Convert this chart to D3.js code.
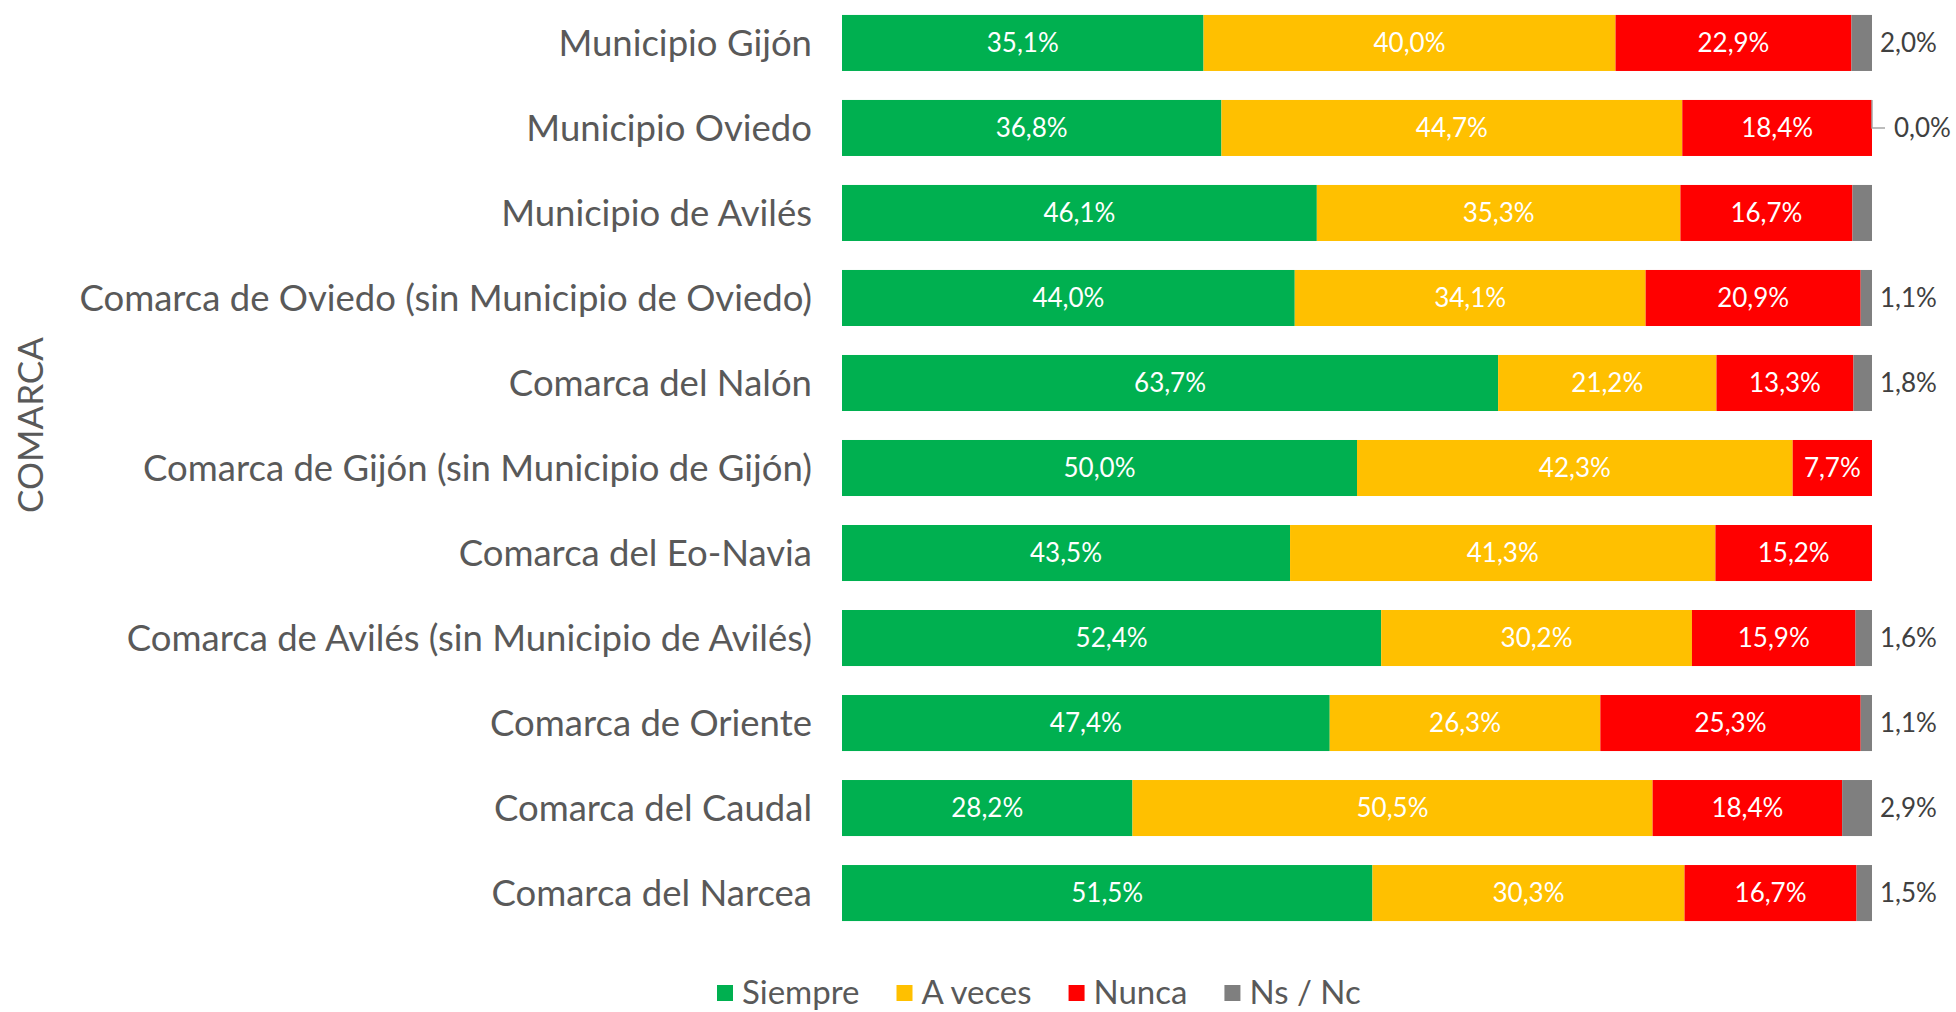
<!DOCTYPE html>
<html>
<head>
<meta charset="utf-8">
<script src="https://cdn.jsdelivr.net/npm/d3@7"></script>
<style>
  body { margin: 0; background: #fff; }
  text { font-family: Lato, sans-serif; }
</style>
</head>
<body>
<div id="chart"></div>
<script>
// categories
var comarcas = [
  "Municipio Gijón",
  "Municipio Oviedo",
  "Municipio de Avilés",
  "Comarca de Oviedo (sin Municipio de Oviedo)",
  "Comarca del Nalón",
  "Comarca de Gijón (sin Municipio de Gijón)",
  "Comarca del Eo-Navia",
  "Comarca de Avilés (sin Municipio de Avilés)",
  "Comarca de Oriente",
  "Comarca del Caudal",
  "Comarca del Narcea"
];

// series values (%)
var siempre = [35.1, 36.8, 46.1, 44.0, 63.7, 50.0, 43.5, 52.4, 47.4, 28.2, 51.5];
var aVeces  = [40.0, 44.7, 35.3, 34.1, 21.2, 42.3, 41.3, 30.2, 26.3, 50.5, 30.3];
var nunca   = [22.9, 18.4, 16.7, 20.9, 13.3, 7.7, 15.2, 15.9, 25.3, 18.4, 16.7];
var nsnc    = [2.0, 0.0, 1.9, 1.1, 1.8, 0.0, 0.0, 1.6, 1.1, 2.9, 1.5];
// which Ns / Nc labels are shown
var nsncShown = [true, true, false, true, true, false, false, true, true, true, true];

var series = ["Siempre", "A veces", "Nunca", "Ns / Nc"];
var colors = ["#00B050", "#FFC000", "#FF0000", "#7F7F7F"];

var svgWidth = 1956;
var svgHeight = 1012;

var svg = d3.select("#chart")
  .append("svg")
  .attr("width", svgWidth)
  .attr("height", svgHeight);

var rows = comarcas.map(function(c, i) {
  return { name: c, "Siempre": siempre[i], "A veces": aVeces[i], "Nunca": nunca[i], "Ns / Nc": nsnc[i], shown: nsncShown[i] };
});

var stacked = d3.stack()
  .keys(series)
  .offset(d3.stackOffsetExpand)(rows);

var x = d3.scaleLinear()
  .domain([0, 1])
  .range([842, 1872]);

var y = d3.scaleBand()
  .domain(comarcas)
  .range([0.5, 935.5])
  .paddingInner(0.341)
  .paddingOuter(0.17);

var color = d3.scaleOrdinal().domain(series).range(colors);

var fmt = function(v) { return d3.format(".1f")(v).replace(".", ",") + "%"; };

// bars
var layers = svg.append("g")
  .selectAll("g")
  .data(stacked)
  .enter()
  .append("g")
  .attr("fill", d => color(d.key));

layers.selectAll("rect")
  .data(d => d)
  .enter()
  .append("rect")
  .attr("x", d => x(d[0]))
  .attr("y", d => y(d.data.name))
  .attr("width", d => x(d[1]) - x(d[0]))
  .attr("height", y.bandwidth());

// labels inside bars (first three series)
stacked.slice(0, 3).forEach(function(layer) {
  svg.append("g")
    .selectAll("text")
    .data(layer)
    .enter()
    .append("text")
    .attr("x", d => (x(d[0]) + x(d[1])) / 2)
    .attr("y", d => y(d.data.name) + y.bandwidth() / 2)
    .attr("dy", "0.35em")
    .attr("text-anchor", "middle")
    .attr("fill", "#ffffff")
    .style("font-size", "26px")
    .text(d => fmt(d.data[layer.key]));
});

// Ns / Nc labels outside the bar end
var nsLayer = stacked[3].filter(d => d.data.shown);

svg.append("g")
  .selectAll("text")
  .data(nsLayer)
  .enter()
  .append("text")
  .attr("x", d => d.data["Ns / Nc"] > 0 ? x(1) + 8 : x(1) + 22)
  .attr("y", d => y(d.data.name) + y.bandwidth() / 2)
  .attr("dy", "0.35em")
  .attr("fill", "#404040")
  .style("font-size", "26px")
  .text(d => fmt(d.data["Ns / Nc"]));

// leader line for zero value label
svg.append("g")
  .selectAll("path")
  .data(nsLayer.filter(d => d.data["Ns / Nc"] === 0))
  .enter()
  .append("path")
  .attr("d", function(d) {
    var top = y(d.data.name);
    var mid = top + y.bandwidth() / 2;
    return "M" + x(1) + "," + top + "V" + mid + "H" + (x(1) + 13);
  })
  .attr("fill", "none")
  .attr("stroke", "#A6A6A6")
  .attr("stroke-width", 1.5);

// category labels
svg.append("g")
  .selectAll("text")
  .data(comarcas)
  .enter()
  .append("text")
  .attr("x", 812)
  .attr("y", d => y(d) + y.bandwidth() / 2)
  .attr("dy", "0.35em")
  .attr("text-anchor", "end")
  .attr("fill", "#595959")
  .style("font-size", "36.5px")
  .text(d => d);

// axis title
svg.append("text")
  .attr("transform", "translate(43, 425) rotate(-90)")
  .attr("text-anchor", "middle")
  .attr("fill", "#595959")
  .style("font-size", "35px")
  .text("COMARCA");

// legend
var legend = svg.append("g");
var lx = 717;
series.forEach(function(s, i) {
  legend.append("rect")
    .attr("x", lx)
    .attr("y", 985)
    .attr("width", 16)
    .attr("height", 16)
    .attr("fill", colors[i]);
  var t = legend.append("text")
    .attr("x", lx + 25)
    .attr("y", 1004)
    .attr("fill", "#595959")
    .style("font-size", "33px")
    .text(s);
  lx += 25 + t.node().getComputedTextLength() + 37;
});
</script>
</body>
</html>
